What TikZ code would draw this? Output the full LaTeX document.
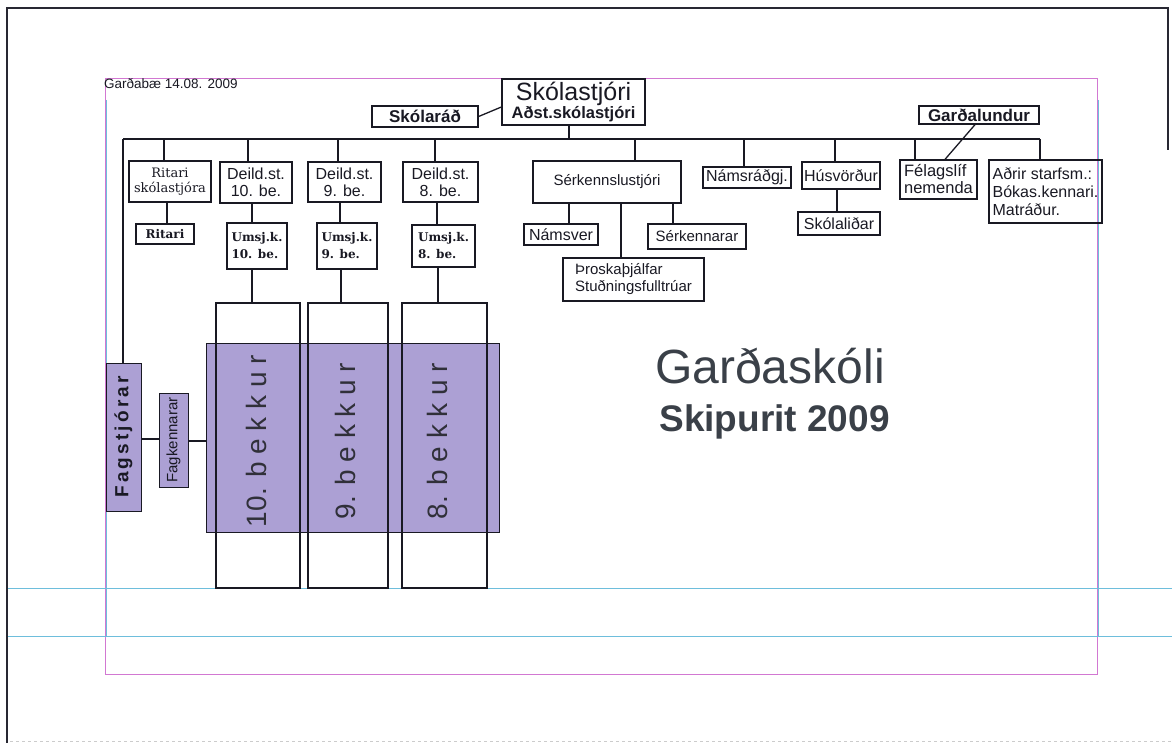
\documentclass[tikz,border=0pt]{standalone}
\usepackage{fontspec}
\setmainfont{Liberation Sans}
\newfontfamily\dvs{DejaVu Serif}
\definecolor{ink}{RGB}{25,25,35}
\definecolor{lav}{RGB}{172,160,212}
\definecolor{mag}{RGB}{210,120,210}
\definecolor{cyn}{RGB}{110,190,220}
\definecolor{titlec}{RGB}{58,64,72}
\definecolor{framec}{RGB}{40,40,50}
\newcommand\fsz[2]{\fontsize{#1}{#2}\selectfont}
\begin{document}
\begin{tikzpicture}[x=1pt,y=-1pt,
  box/.style={draw=ink, line width=1.3pt, inner sep=0pt, align=center, text=ink},
  conn/.style={draw=ink, line width=1.3pt},
  purplebox/.style={draw=ink, line width=1pt, fill=lav, inner sep=0pt, text=ink},
  vtext/.style={rotate=90, inner sep=0pt, text=ink!90}]
\useasboundingbox (0,0) rectangle (1172,743);
% page frame and guides
\draw[framec, line width=1.2pt] (7,743) -- (7,8) -- (1168,8) -- (1168,150);
\draw[gray!40, dashed, line width=0.8pt] (10,741) -- (1172,741);
\draw[mag, line width=0.8pt] (105,78) rectangle (1097,674);
\draw[cyn, line width=0.8pt] (8,588) -- (1172,588);
\draw[cyn, line width=0.8pt] (8,636) -- (1172,636);
\draw[cyn, line width=0.8pt] (106,100) -- (106,636);
\draw[cyn, line width=0.8pt] (1098,100) -- (1098,636);
% date
\node[anchor=base west, inner sep=0pt, font=\fsz{13.5}{13.5}, text=ink] (date) at (104,89) {Garðabæ 14.08. 2009};
% top
\node[box, minimum width=143, minimum height=46, font=\fsz{25}{16}] (sk) at (573.5,102) {Skólastjóri\\{\fsz{16.5}{16}\bfseries Aðst.skólastjóri}};
\node[box, minimum width=106, minimum height=21, font=\bfseries\fsz{17}{17}] (skr) at (425,116.5) {Skólaráð};
\node[box, minimum width=120, minimum height=18, font=\bfseries\fsz{17}{17}] (gl) at (979,115) {Garðalundur};
% second row
\node[box, minimum width=82, minimum height=41, font=\dvs\fsz{13}{15}] (rit1) at (170,181.5) {Ritari\\skólastjóra};
\node[box, minimum width=58, minimum height=20, font=\dvs\bfseries\fsz{12}{14}] (rit2) at (165,234) {Ritari};
\node[box, minimum width=72, minimum height=41, font=\fsz{16}{17}] (d10) at (256,182.5) {Deild.st.\\10. be.};
\node[box, minimum width=73, minimum height=40, font=\fsz{16}{17}] (d9) at (344.5,182) {Deild.st.\\9. be.};
\node[box, minimum width=75, minimum height=40, font=\fsz{16}{17}] (d8) at (440.5,182) {Deild.st.\\8. be.};
\node[box, minimum width=60, minimum height=46, font=\dvs\bfseries\fsz{12}{17}, align=left] (u10) at (257,246) {Umsj.k.\\10. be.};
\node[box, minimum width=60, minimum height=46, font=\dvs\bfseries\fsz{12}{17}, align=left] (u9) at (347,246) {Umsj.k.\\9. be.};
\node[box, minimum width=63, minimum height=42, font=\dvs\bfseries\fsz{12}{17}, align=left] (u8) at (443.5,246) {Umsj.k.\\8. be.};
\node[box, minimum width=148, minimum height=42, font=\fsz{15}{17}] (sek) at (607,182) {Sérkennslustjóri};
\node[box, minimum width=74, minimum height=21, font=\fsz{16}{17}] (nv) at (561,234.5) {Námsver};
\node[box, minimum width=98, minimum height=25, font=\fsz{15}{17}] (skn) at (697,236.5) {Sérkennarar};
\node[box, minimum width=141, minimum height=43, font=\fsz{15}{17}, align=left] (thr) at (633.5,279.5) {Þroskaþjálfar\\Stuðningsfulltrúar};
\node[box, minimum width=88, minimum height=21, font=\fsz{16}{17}] (nrg) at (747,177.5) {Námsráðgj.};
\node[box, minimum width=78, minimum height=27, font=\fsz{16}{17}] (hv) at (841,175.5) {Húsvörður};
\node[box, minimum width=82, minimum height=23, font=\fsz{16}{17}] (skl) at (839,223.5) {Skólaliðar};
\node[box, minimum width=77, minimum height=39, font=\fsz{16.5}{17}, align=left] (fel) at (938.5,179.5) {Félagslíf\\nemenda};
\node[box, minimum width=113, minimum height=63, font=\fsz{16}{18}, align=left] (adr) at (1045.5,191.5) {Aðrir starfsm.:\\Bókas.kennari.\\Matráður.};
% classes
\node[purplebox, minimum width=293, minimum height=189] (purp) at (352.5,437.5) {};
\node[box, minimum width=84, minimum height=285] (c10) at (258,445.5) {};
\node[box, minimum width=80, minimum height=285] (c9) at (348,445.5) {};
\node[box, minimum width=85, minimum height=285] (c8) at (444.5,445.5) {};
\node[vtext, font=\fsz{28}{28}] (t10) at (256,441) {10. b e k k u r};
\node[vtext, font=\fsz{28}{28}] (t9) at (345,441) {9. b e k k u r};
\node[vtext, font=\fsz{28}{28}] (t8) at (437,441) {8. b e k k u r};
\node[purplebox, rotate=90, minimum width=148, minimum height=35, font=\bfseries\fsz{19}{19}] (fs) at (123.5,437) {F\,a\,g\,s\,t\,j\,ó\,r\,a\,r};
\node[purplebox, rotate=90, minimum width=94, minimum height=29, font=\fsz{15}{15}] (fk) at (173.5,440) {Fagkennarar};
% title
\node[anchor=base, inner sep=0pt, font=\fsz{48}{48}, text=titlec] (title) at (770,383) {Garðaskóli};
\node[anchor=base, inner sep=0pt, font=\bfseries\fsz{37}{37}, text=titlec] (sub) at (774.5,431) {Skipurit 2009};
% helper coordinates
\coordinate (busL) at (123,139);
\coordinate (busR) at (1040,139);
\foreach \n/\x in {xSk/569, xRit/164, xRit2/167, xD10/248, xD9/338, xD8/435, xU10/252, xU9/340, xU8/437,
  xC10/252, xC9/341, xC8/438, xSek/635, xNv/569, xThr/621, xSkn/673, xNrg/744, xHv/835, xSkl/837,
  xFel/915, xGl/975, xFel2/945}
  \coordinate (\n) at (\x,0);
\coordinate (ySk) at (0,107);
\coordinate (yF1) at (0,439);
\coordinate (yF2) at (0,441);
% connectors
\draw[conn] (busL) -- (busR);
\draw[conn] (busL -| xSk) -- (sk.south -| xSk);
\draw[conn] (skr.east) -- (sk.west |- ySk);
\draw[conn] (busL -| xRit) -- (rit1.north -| xRit);
\draw[conn] (rit1.south -| xRit2) -- (rit2.north -| xRit2);
\draw[conn] (busL -| xD10) -- (d10.north -| xD10);
\draw[conn] (busL -| xD9) -- (d9.north -| xD9);
\draw[conn] (busL -| xD8) -- (d8.north -| xD8);
\draw[conn] (d10.south -| xU10) -- (u10.north -| xU10);
\draw[conn] (d9.south -| xU9) -- (u9.north -| xU9);
\draw[conn] (d8.south -| xU8) -- (u8.north -| xU8);
\draw[conn] (u10.south -| xC10) -- (c10.north -| xC10);
\draw[conn] (u9.south -| xC9) -- (c9.north -| xC9);
\draw[conn] (u8.south -| xC8) -- (c8.north -| xC8);
\draw[conn] (busL -| xSek) -- (sek.north -| xSek);
\draw[conn] (sek.south -| xNv) -- (nv.north -| xNv);
\draw[conn] (sek.south -| xThr) -- (thr.north -| xThr);
\draw[conn] (sek.south -| xSkn) -- (skn.north -| xSkn);
\draw[conn] (busL -| xNrg) -- (nrg.north -| xNrg);
\draw[conn] (busL -| xHv) -- (hv.north -| xHv);
\draw[conn] (hv.south -| xSkl) -- (skl.north -| xSkl);
\draw[conn] (busL -| xFel) -- (fel.north -| xFel);
\draw[conn] (busR) -- (adr.north -| busR);
\draw[conn] (gl.south -| xGl) -- (fel.north -| xFel2);
\draw[conn] (busL) -- (busL |- fs.east);
\draw[conn] (fs.south |- yF1) -- (fk.north |- yF1);
\draw[conn] (fk.south |- yF2) -- (purp.west |- yF2);
\end{tikzpicture}
\end{document}
